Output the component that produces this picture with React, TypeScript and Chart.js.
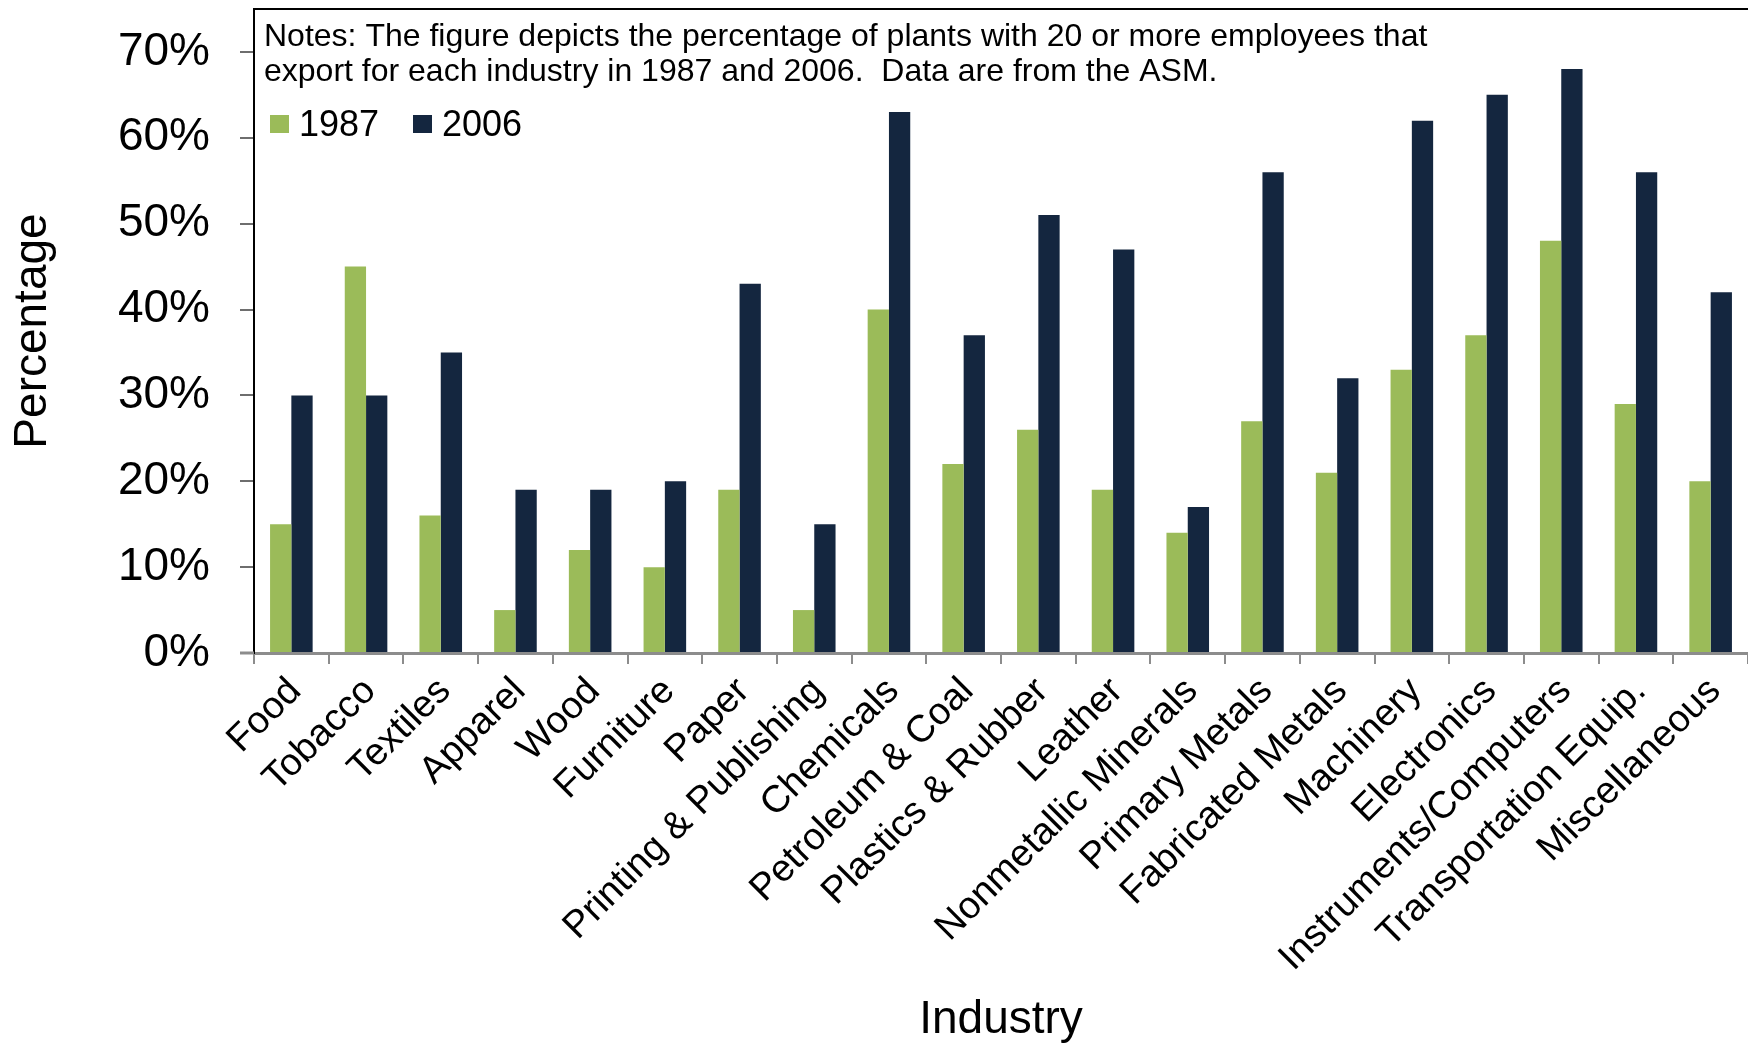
import React, { useEffect, useRef } from 'react';
import { Chart, registerables } from 'chart.js';

Chart.register(...registerables);

const categories = [
  'Food', 'Tobacco', 'Textiles', 'Apparel', 'Wood', 'Furniture', 'Paper',
  'Printing & Publishing', 'Chemicals', 'Petroleum & Coal', 'Plastics & Rubber',
  'Leather', 'Nonmetallic Minerals', 'Primary Metals', 'Fabricated Metals',
  'Machinery', 'Electronics', 'Instruments/Computers', 'Transportation Equip.',
  'Miscellaneous',
];
const values1987 = [15, 45, 16, 5, 12, 10, 19, 5, 40, 22, 26, 19, 14, 27, 21, 33, 37, 48, 29, 20];
const values2006 = [30, 30, 35, 19, 19, 20, 43, 15, 63, 37, 51, 47, 17, 56, 32, 62, 65, 68, 56, 42];
const seriesLabels = ['1987', '2006'];
const yTickValues = [0, 10, 20, 30, 40, 50, 60, 70];
const noteLines = [
  'Notes: The figure depicts the percentage of plants with 20 or more employees that',
  'export for each industry in 1987 and 2006.  Data are from the ASM.',
];
const xTitle = 'Industry';
const yTitle = 'Percentage';

const GREEN = '#9bbb59';
const NAVY = '#14263f';
const FONT = '"Liberation Sans", Arial, Helvetica, sans-serif';

const overlayPlugin = {
  id: 'overlay',
  afterDraw(chart: any) {
    const { ctx, chartArea } = chart;
    ctx.save();
    // top border of the box
    ctx.strokeStyle = '#000';
    ctx.lineWidth = 2;
    ctx.beginPath();
    ctx.moveTo(chartArea.left - 1, chartArea.top);
    ctx.lineTo(chart.width, chartArea.top);
    ctx.stroke();
    // extension of the x axis line to the left (0% tick)
    ctx.strokeStyle = '#8c8c8c';
    ctx.lineWidth = 3;
    ctx.beginPath();
    ctx.moveTo(chartArea.left - 14, chartArea.bottom);
    ctx.lineTo(chartArea.left, chartArea.bottom);
    ctx.stroke();
    // notes
    ctx.fillStyle = '#000';
    ctx.textAlign = 'left';
    ctx.textBaseline = 'alphabetic';
    ctx.font = `32px ${FONT}`;
    noteLines.forEach((line, i) => ctx.fillText(line, 264, 46 + i * 35));
    // legend
    ctx.font = `36px ${FONT}`;
    const colors = [GREEN, NAVY];
    const sx = [270, 413];
    seriesLabels.forEach((lab, i) => {
      ctx.fillStyle = colors[i];
      ctx.fillRect(sx[i], 115, 19, 18);
      ctx.fillStyle = '#000';
      ctx.fillText(lab, sx[i] + 29, 136);
    });
    ctx.restore();
  },
};

export default function App() {
  const ref = useRef<HTMLCanvasElement | null>(null);

  useEffect(() => {
    if (!ref.current) return;
    const chart = new Chart(ref.current, {
      type: 'bar',
      data: {
        labels: categories,
        datasets: [
          { label: seriesLabels[0], data: values1987, backgroundColor: GREEN, borderWidth: 0 },
          { label: seriesLabels[1], data: values2006, backgroundColor: NAVY, borderWidth: 0 },
        ],
      },
      options: {
        responsive: false,
        animation: false,
        devicePixelRatio: 1,
        layout: { padding: { top: 9, right: 0, left: 0, bottom: 0 } },
        datasets: { bar: { categoryPercentage: 0.57, barPercentage: 1.0 } },
        plugins: {
          legend: { display: false },
          tooltip: { enabled: false },
        },
        scales: {
          x: {
            offset: true,
            grid: {
              offset: true,
              drawOnChartArea: false,
              drawTicks: true,
              tickLength: 11,
              color: '#8c8c8c',
              lineWidth: 2,
            },
            border: { display: true, color: '#8c8c8c', width: 3 },
            ticks: {
              minRotation: 45,
              maxRotation: 45,
              autoSkip: false,
              padding: 5,
              labelOffset: 4,
              color: '#000',
              font: { family: FONT, size: 38 },
            },
            title: {
              display: true,
              text: xTitle,
              color: '#000',
              font: { family: FONT, size: 46, lineHeight: 1 },
              padding: { top: 0, bottom: 5 },
            },
            afterFit: (scale: any) => {
              scale.height = 395;
              scale.paddingLeft = 0;
              scale.paddingRight = 0;
            },
          },
          y: {
            min: 0,
            max: 75,
            ticks: {
              stepSize: 10,
              padding: 30,
              color: '#000',
              font: { family: FONT, size: 46 },
              callback: (v: any) => `${v}%`,
            },
            afterBuildTicks: (axis: any) => {
              axis.ticks = yTickValues.map((v) => ({ value: v }));
            },
            grid: {
              drawOnChartArea: false,
              drawTicks: true,
              tickLength: 14,
              color: '#6e6e6e',
              lineWidth: 2,
            },
            border: { display: true, color: '#000', width: 2 },
            title: {
              display: true,
              text: yTitle,
              color: '#000',
              font: { family: FONT, size: 46, lineHeight: 1 },
              padding: { top: 10, bottom: 0 },
            },
            afterFit: (scale: any) => {
              scale.width = 254;
              scale.paddingTop = 0;
              scale.paddingBottom = 0;
            },
          },
        },
      },
      plugins: [overlayPlugin],
    });
    return () => chart.destroy();
  }, []);

  return (
    <div style={{ position: 'fixed', left: 0, top: 0, width: 1748, height: 1048, background: '#fff' }}>
      <canvas ref={ref} width={1748} height={1048} style={{ display: 'block' }} />
    </div>
  );
}
